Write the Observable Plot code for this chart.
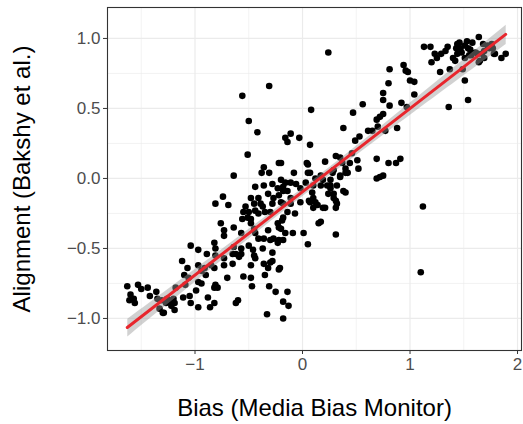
<!DOCTYPE html>
<html><head><meta charset="utf-8">
<script src="https://cdn.jsdelivr.net/npm/d3@7"></script>
<script src="https://cdn.jsdelivr.net/npm/@observablehq/plot@0.6"></script>
<style>
body{margin:0;background:#fff}
svg{font-family:"Liberation Sans",Arial,Helvetica,sans-serif}
</style>
</head><body><div id="chart"></div>
<script>
// Axis titles and ticks
const xTitle = "Bias (Media Bias Monitor)";
const yTitle = "Alignment (Bakshy et al.)";
const xTicks = [-1, 0, 1, 2];
const xMinor = [-1.5, -0.5, 0.5, 1.5];
const yTicks = [-1, -0.5, 0, 0.5, 1];
const yMinor = [-0.75, -0.25, 0.25, 0.75];

// Points: lower-left cluster
const biasA = [-1.63,-1.53,-1.50,-1.44,-1.60,-1.57,-1.61,-1.56,-1.42,-1.36,
-1.35,-1.31,-1.33,-1.30,-1.27,-1.23,-1.20,-1.19,-1.19,-1.18,
-1.09,-1.11,-1.05,-1.04,-0.97,-0.99,-0.97,-1.06,-1.10,-1.07,
-0.97,-0.91,-0.90,-0.97,-0.89,-0.81,-0.88,-0.82,-0.86,-0.81,
-1.29,-1.22,-1.26,-1.12,-1.04,-0.94,-0.82,-0.81,-0.81,-0.74,
-0.69,-0.76,-0.73,-0.73,-0.64,-0.65,-0.73,-0.73,-0.70,-0.79,
-0.82,-0.62,-0.60,-0.85,-0.82,-0.65,-0.62,-0.57,-0.94,-0.64,
-0.57,-0.59];
const alignA = [-0.77,-0.76,-0.79,-0.78,-0.83,-0.86,-0.87,-0.89,-0.84,-0.81,
-0.86,-0.87,-0.93,-0.96,-0.89,-0.87,-0.86,-0.89,-0.94,-0.78,
-0.76,-0.85,-0.84,-0.89,-0.92,-0.80,-0.74,-0.71,-0.69,-0.64,
-0.62,-0.64,-0.69,-0.51,-0.54,-0.55,-0.85,-0.89,-0.92,-0.76,
-0.96,-0.91,-0.86,-0.59,-0.48,-0.66,-0.46,-0.50,-0.18,-0.13,
-0.19,-0.32,-0.37,-0.41,-0.35,-0.54,-0.57,-0.62,-0.71,-0.78,
-0.78,-0.89,-0.87,-0.62,-0.64,-0.61,-0.54,-0.54,-0.75,-0.49,
-0.50,-0.56];

// Points: centre-left
const biasB = [-0.64,-0.38,-0.31,-0.44,-0.36,-0.28,-0.20,-0.16,-0.23,-0.18,
-0.14,-0.32,-0.27,-0.22,-0.48,-0.45,-0.41,-0.39,-0.37,-0.28,
-0.20,-0.18,-0.53,-0.55,-0.50,-0.44,-0.41,-0.35,-0.30,-0.51,
-0.48,-0.56,-0.48,-0.45,-0.44,-0.41,-0.36,-0.32,-0.23,-0.20,
-0.19,-0.16,-0.22,-0.30,-0.57,-0.50,-0.46,-0.45,-0.37,-0.55,
-0.48,-0.47,-0.48,-0.44,-0.36,-0.32,-0.30,-0.28,-0.35,-0.21,
-0.31,-0.25,-0.14,-0.18,-0.13,-0.33,-0.18];
const alignB = [0.02,0.04,0.04,-0.06,-0.05,-0.04,-0.01,-0.03,-0.07,-0.06,
-0.09,-0.11,-0.14,-0.12,-0.14,-0.18,-0.14,-0.18,-0.20,-0.18,
-0.17,-0.18,-0.20,-0.24,-0.24,-0.23,-0.25,-0.24,-0.24,-0.28,
-0.29,-0.29,-0.32,-0.36,-0.39,-0.43,-0.43,-0.37,-0.32,-0.36,
-0.30,-0.39,-0.44,-0.44,-0.39,-0.48,-0.51,-0.55,-0.50,-0.70,
-0.71,-0.77,-0.62,-0.57,-0.61,-0.64,-0.60,-0.53,-0.69,-0.64,
-0.77,-0.81,-0.81,-0.88,-0.91,-0.97,-1.00];

// Points: centre
const biasC = [-0.08,0.05,0.40,0.40,0.69,0.35,0.32,0.26,0.24,0.29,
0.32,0.31,0.10,0.07,0.10,0.21,0.17,0.15,0.31,0.01,
0.05,-0.09,-0.18,-0.07,-0.11,-0.14,-0.18,-0.22,-0.27,-0.23,
-0.28,-0.22,0.08,0.47,0.38,0.53,0.49,0.61,-0.16,-0.14,
-0.11,-0.03,0.07,-0.20,0.04,0.07,0.21,0.31,0.35,0.44,
0.51,0.52,0.37,0.40,0.35,0.28,0.17,0.12,0.19,0.26,
0.23,0.26,0.29,0.17,0.10,0.03,-0.02,-0.06,-0.11,-0.18,
0.09,0.06,0.12,0.14,0.19,0.31,0.38,-0.02,-0.11,
-0.56,-0.31,0.24,-0.50,-0.42,-0.51,-0.36,-0.22,0.05,0.56,
0.46,0.42,0.29,0.65,0.69,0.69];
const alignC = [0.04,0.04,0.04,-0.10,0.00,0.01,-0.05,-0.05,-0.11,-0.14,
-0.18,-0.21,-0.14,-0.17,-0.21,-0.21,-0.31,-0.32,-0.40,-0.39,
-0.47,-0.39,-0.44,-0.25,-0.18,-0.24,-0.28,-0.35,-0.43,-0.46,
-0.59,-0.65,0.49,0.47,0.36,0.30,0.27,0.34,0.29,0.26,
0.32,0.29,0.24,0.11,0.11,0.04,0.12,0.16,0.15,0.11,
0.13,0.07,0.11,0.07,0.02,0.04,0.02,0.00,-0.01,-0.01,
-0.05,-0.07,-0.11,-0.05,-0.05,-0.03,-0.07,-0.04,-0.03,-0.09,
-0.10,-0.16,-0.17,-0.19,-0.21,-0.16,-0.09,-0.17,-0.14,
0.59,0.66,0.90,0.41,0.33,0.17,0.08,0.11,0.10,0.53,
0.18,0.04,0.06,0.34,0.42,0.14];

// Points: centre-right
const biasD = [0.72,0.75,0.70,0.77,0.88,0.75,0.75,0.81,0.92,0.97,
1.04,1.00,1.04,0.80,0.81,0.94,0.96,0.98,0.80,0.87,
0.91,0.72,0.75,1.12,1.10];
const alignD = [0.44,0.46,0.37,0.34,0.36,0.61,0.56,0.52,0.54,0.51,
0.60,0.70,0.69,0.68,0.78,0.81,0.77,0.76,0.11,0.11,
0.14,0.01,0.02,-0.20,-0.67];

// Points: upper-right cluster
const biasE = [1.13,1.19,1.23,1.25,1.20,1.29,1.33,1.35,1.28,1.37,
1.36,1.40,1.42,1.44,1.46,1.43,1.48,1.51,1.53,1.56,
1.58,1.64,1.61,1.55,1.51,1.49,1.51,1.54,1.67,1.68,
1.74,1.65,1.69,1.78,1.77,1.85,1.89,1.44,1.47,1.54,
1.57,1.63,1.64,1.69,1.72,1.76,1.79];
const alignE = [0.94,0.94,0.89,0.86,0.83,0.89,0.91,0.94,0.76,0.78,
0.51,0.86,0.84,0.96,0.97,0.93,0.90,0.95,0.98,0.92,
0.97,1.01,0.90,0.88,0.86,0.78,0.70,0.56,0.89,0.96,
0.93,0.84,0.86,0.89,0.93,0.86,0.89,0.89,0.93,0.93,
0.88,0.89,0.83,0.91,0.95,0.96,0.89];

const bias = [...biasA, ...biasB, ...biasC, ...biasD, ...biasE];
const alignment = [...alignA, ...alignB, ...alignC, ...alignD, ...alignE];
const data = bias.map((b, i) => ({bias: b, alignment: alignment[i]}));

const font = '"Liberation Sans", Arial, Helvetica, sans-serif';
const fmtY = d3.format(".1f");
const fmtX = d3.format("d");

const chart = Plot.plot({
  width: 523,
  height: 424,
  marginLeft: 107,
  marginRight: 2,
  marginTop: 7,
  marginBottom: 74,
  style: {fontFamily: font, background: "#ffffff"},
  x: {domain: [-1.814, 2.037], label: null},
  y: {domain: [-1.229, 1.221], label: null},
  marks: [
    Plot.gridX(xMinor, {stroke: "#ebebeb", strokeOpacity: 1, strokeWidth: 0.6}),
    Plot.gridY(yMinor, {stroke: "#ebebeb", strokeOpacity: 1, strokeWidth: 0.6}),
    Plot.gridX(xTicks, {stroke: "#ebebeb", strokeOpacity: 1, strokeWidth: 1.2}),
    Plot.gridY(yTicks, {stroke: "#ebebeb", strokeOpacity: 1, strokeWidth: 1.2}),
    Plot.dot(data, {x: "bias", y: "alignment", r: 3.3, fill: "#000000", stroke: null}),
    Plot.linearRegressionY(data, {x: "bias", y: "alignment", stroke: "#e8262d", strokeWidth: 3, fill: "#999999", fillOpacity: 0.45}),
    Plot.frame({stroke: "#333333", strokeWidth: 1.1}),
    Plot.axisX(xTicks, {tickSize: 4, tickPadding: 3, fontSize: 17, fill: "#4d4d4d", stroke: "#333333", tickFormat: fmtX, label: null}),
    Plot.axisY(yTicks, {tickSize: 4, tickPadding: 3, fontSize: 17, fill: "#4d4d4d", stroke: "#333333", tickFormat: fmtY, label: null}),
    Plot.text([xTitle], {text: d => d, frameAnchor: "bottom", dy: 58, lineAnchor: "middle", textAnchor: "middle", fontSize: 24, fill: "#000000"}),
    Plot.text([yTitle], {text: d => d, frameAnchor: "left", dx: -85, rotate: -90, lineAnchor: "middle", textAnchor: "middle", fontSize: 24, fill: "#000000"})
  ]
});
document.getElementById("chart").appendChild(chart);
</script>
</body></html>
